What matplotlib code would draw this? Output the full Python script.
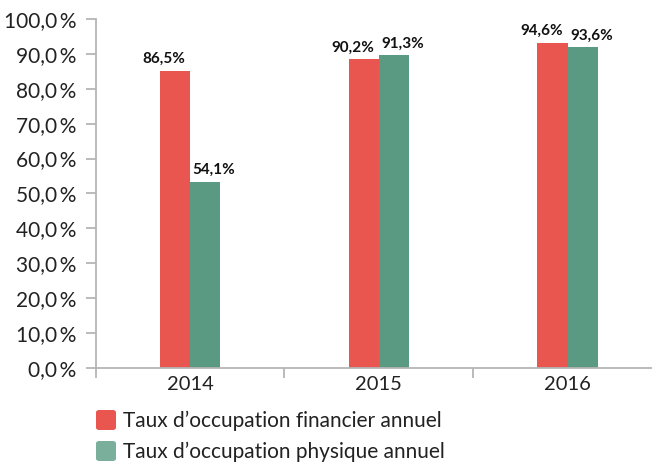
import matplotlib
matplotlib.use("Agg")
import matplotlib.pyplot as plt
from matplotlib.patches import FancyBboxPatch
import numpy as np

years = ["2014", "2015", "2016"]
financier = [85.1, 88.4, 93.1]
physique = [53.3, 89.6, 91.9]
financier_labels = ["86,5%", "90,2%", "94,6%"]
physique_labels = ["54,1%", "91,3%", "93,6%"]
series_names = ["Taux d\u2019occupation financier annuel", "Taux d\u2019occupation physique annuel"]
bar_colors = ["#e9554f", "#5a9a82"]
legend_colors = ["#e9554f", "#7ab09b"]
yticks = [0, 10, 20, 30, 40, 50, 60, 70, 80, 90, 100]

plt.rcParams['font.family'] = ['Lato', 'DejaVu Sans']

fig = plt.figure(figsize=(6.52, 4.63), dpi=100)
ax = fig.add_axes([0.1466, 0.2058, 1.0 - 0.1466, 0.7531])

x = np.arange(len(years))
w = 0.16
ax.bar(x - w/2, financier, width=w, color=bar_colors[0], linewidth=0)
ax.bar(x + w/2, physique, width=w, color=bar_colors[1], linewidth=0)

for i in range(len(years)):
    ax.annotate(financier_labels[i], (x[i], financier[i]), xytext=(-3.5, 3.5),
                textcoords="offset points", ha="right", va="bottom",
                fontsize=11, fontweight="bold", color="#111111")
    ax.annotate(physique_labels[i], (x[i], physique[i]), xytext=(2, 3.5),
                textcoords="offset points", ha="left", va="bottom",
                fontsize=11, fontweight="bold", color="#111111")

ax.set_xlim(-0.5, 2.447)
ax.set_ylim(0, 100)
ax.set_yticks(yticks)
ax.set_yticklabels([f"{v:.1f}".replace(".", ",") + "\u2009%" for v in yticks])
ax.set_xticks([-0.5, 0.5, 1.5], minor=False)
ax.set_xticklabels([])
ax.set_xticks(x, minor=True)
ax.set_xticklabels(years, minor=True)
ax.tick_params(axis="x", which="minor", length=0, labelsize=14.5, pad=6, colors="#222222")
ax.tick_params(axis="x", which="major", length=7, width=1.3, color="#b5b5b5", direction="out")
ax.tick_params(axis="y", length=7, width=1.3, color="#b5b5b5", labelsize=15, pad=7, labelcolor="#222222")

for s in ["top", "right"]:
    ax.spines[s].set_visible(False)
for s in ["left", "bottom"]:
    ax.spines[s].set_color("#b5b5b5")
    ax.spines[s].set_linewidth(1.3)

W, H = 652, 463
square_tops = [410, 441]
text_baselines = [427, 458]
for i, name in enumerate(series_names):
    top = square_tops[i]
    box = FancyBboxPatch((96 / W, (H - top - 20) / H), 20 / W, 20 / H,
                         boxstyle="round,pad=0,rounding_size=0.005",
                         transform=fig.transFigure, facecolor=legend_colors[i],
                         edgecolor="none")
    fig.patches.append(box)
    fig.text(123 / W, (H - text_baselines[i]) / H, name, fontsize=15,
             va="baseline", ha="left", color="#222222")

fig.savefig("out.png", dpi=100)
